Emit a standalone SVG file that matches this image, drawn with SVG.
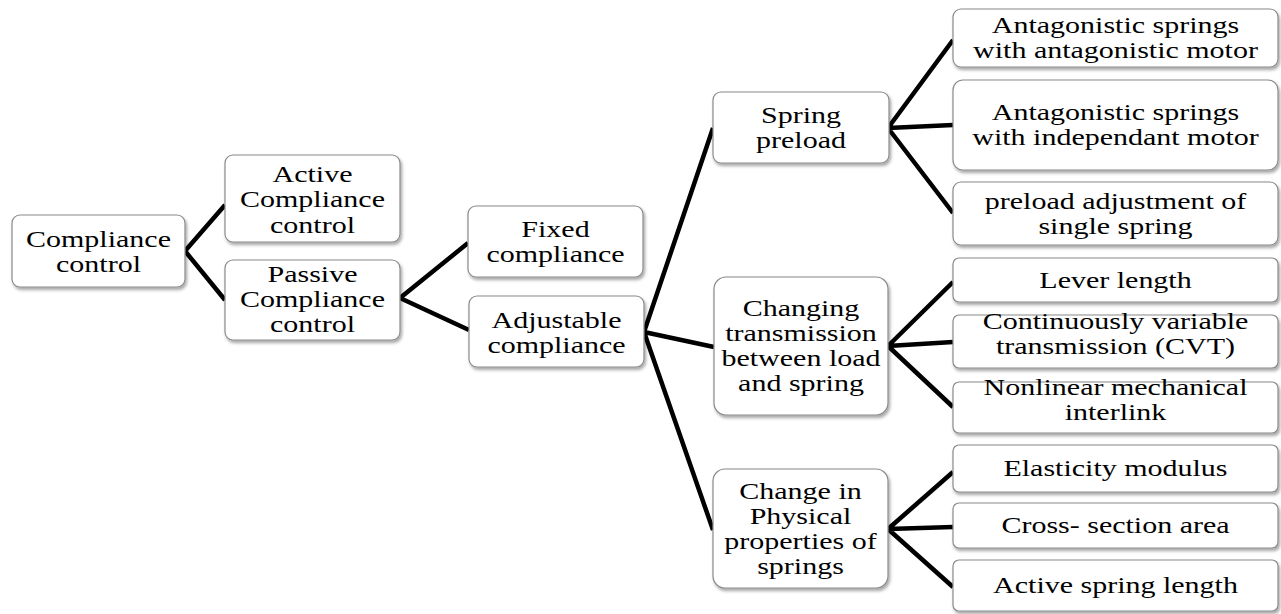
<svg xmlns="http://www.w3.org/2000/svg" width="1281" height="614" viewBox="0 0 1281 614">
<style>
.box{fill:#ffffff;stroke:#8a8a8a;stroke-width:1.2;filter:url(#sh)}
.t{font-family:"Liberation Serif","Times New Roman",serif;font-size:24px;fill:#000;text-anchor:middle}
.c{stroke:#000;stroke-width:4.5;fill:none;stroke-linecap:butt}
</style>
<defs>
<filter id="sh" x="-10%" y="-10%" width="120%" height="130%">
<feDropShadow dx="1.5" dy="2.5" stdDeviation="1.5" flood-color="#000" flood-opacity="0.35"/>
</filter>
</defs>
<rect width="1281" height="614" fill="#ffffff"/>
<g id="connectors">
<path class="c" d="M185,251 L225,205 M185,251 L225,300"/>
<path class="c" d="M400,298 L468,243 M400,298 L469,330"/>
<path class="c" d="M644,332 L713,128 M644,332 L714,347 M644,332 L713,530"/>
<path class="c" d="M888,128 L953,40 M888,128 L953,125 M888,128 L953,213"/>
<path class="c" d="M888,346 L953,282 M888,346 L953,342 M888,346 L953,407"/>
<path class="c" d="M888,529 L953,472 M888,529 L953,527 M888,529 L953,587"/>
</g>
<g id="n-compliance-control">
<rect class="box" x="12" y="215" width="173" height="72" rx="8"/>
<text class="t" transform="translate(98.5,0) scale(1.25,1)"><tspan x="0" y="247">Compliance</tspan><tspan x="0" y="272">control</tspan></text>
</g>
<g id="n-active">
<rect class="box" x="225" y="155" width="175" height="87" rx="8"/>
<text class="t" transform="translate(312.5,0) scale(1.25,1)"><tspan x="0" y="182">Active</tspan><tspan x="0" y="207.5">Compliance</tspan><tspan x="0" y="233">control</tspan></text>
</g>
<g id="n-passive">
<rect class="box" x="225" y="260" width="175" height="80" rx="8"/>
<text class="t" transform="translate(312.5,0) scale(1.25,1)"><tspan x="0" y="282">Passive</tspan><tspan x="0" y="307">Compliance</tspan><tspan x="0" y="332">control</tspan></text>
</g>
<g id="n-fixed">
<rect class="box" x="468" y="206" width="175" height="71" rx="8"/>
<text class="t" transform="translate(555.5,0) scale(1.25,1)"><tspan x="0" y="237">Fixed</tspan><tspan x="0" y="262">compliance</tspan></text>
</g>
<g id="n-adjustable">
<rect class="box" x="469" y="296" width="175" height="71" rx="8"/>
<text class="t" transform="translate(556.5,0) scale(1.25,1)"><tspan x="0" y="328">Adjustable</tspan><tspan x="0" y="353">compliance</tspan></text>
</g>
<g id="n-spring-preload">
<rect class="box" x="713" y="92" width="176" height="71" rx="8"/>
<text class="t" transform="translate(801,0) scale(1.25,1)"><tspan x="0" y="123">Spring</tspan><tspan x="0" y="148">preload</tspan></text>
</g>
<g id="n-changing-transmission">
<rect class="box" x="714" y="277" width="174" height="138" rx="12"/>
<text class="t" transform="translate(801,0) scale(1.25,1)"><tspan x="0" y="316">Changing</tspan><tspan x="0" y="341">transmission</tspan><tspan x="0" y="366">between load</tspan><tspan x="0" y="391">and spring</tspan></text>
</g>
<g id="n-change-physical">
<rect class="box" x="713" y="469" width="175" height="119" rx="12"/>
<text class="t" transform="translate(800.5,0) scale(1.25,1)"><tspan x="0" y="499">Change in</tspan><tspan x="0" y="524">Physical</tspan><tspan x="0" y="549">properties of</tspan><tspan x="0" y="574">springs</tspan></text>
</g>
<g id="n-antag-antag">
<rect class="box" x="953" y="9" width="325" height="58" rx="8"/>
<text class="t" transform="translate(1115.5,0) scale(1.25,1)"><tspan x="0" y="33.5">Antagonistic springs</tspan><tspan x="0" y="58.5">with antagonistic motor</tspan></text>
</g>
<g id="n-antag-indep">
<rect class="box" x="953" y="80" width="325" height="90" rx="10"/>
<text class="t" transform="translate(1115.5,0) scale(1.25,1)"><tspan x="0" y="120.5">Antagonistic springs</tspan><tspan x="0" y="145.5">with independant motor</tspan></text>
</g>
<g id="n-preload-single">
<rect class="box" x="953" y="182" width="325" height="63" rx="8"/>
<text class="t" transform="translate(1115.5,0) scale(1.25,1)"><tspan x="0" y="209">preload adjustment of</tspan><tspan x="0" y="234">single spring</tspan></text>
</g>
<g id="n-lever">
<rect class="box" x="953" y="258" width="325" height="44" rx="6"/>
<text class="t" transform="translate(1115.5,0) scale(1.25,1)"><tspan x="0" y="288">Lever length</tspan></text>
</g>
<g id="n-cvt">
<rect class="box" x="953" y="315" width="325" height="53" rx="6"/>
<text class="t" transform="translate(1115.5,0) scale(1.25,1)"><tspan x="0" y="329">Continuously variable</tspan><tspan x="0" y="354">transmission (CVT)</tspan></text>
</g>
<g id="n-nonlinear">
<rect class="box" x="953" y="382" width="325" height="51" rx="6"/>
<text class="t" transform="translate(1115.5,0) scale(1.25,1)"><tspan x="0" y="395">Nonlinear mechanical</tspan><tspan x="0" y="420">interlink</tspan></text>
</g>
<g id="n-elasticity">
<rect class="box" x="953" y="445" width="325" height="47" rx="6"/>
<text class="t" transform="translate(1115.5,0) scale(1.25,1)"><tspan x="0" y="476.5">Elasticity modulus</tspan></text>
</g>
<g id="n-cross">
<rect class="box" x="953" y="503" width="325" height="45" rx="6"/>
<text class="t" transform="translate(1115.5,0) scale(1.25,1)"><tspan x="0" y="533.5">Cross- section area</tspan></text>
</g>
<g id="n-active-length">
<rect class="box" x="953" y="560" width="325" height="51" rx="6"/>
<text class="t" transform="translate(1115.5,0) scale(1.25,1)"><tspan x="0" y="593.5">Active spring length</tspan></text>
</g>
</svg>
